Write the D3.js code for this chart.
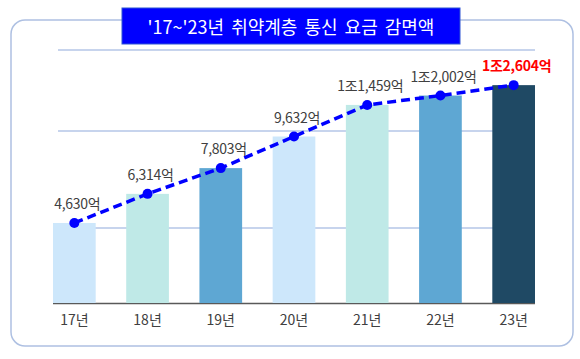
<!DOCTYPE html>
<html><head><meta charset="utf-8">
<script src="https://cdn.jsdelivr.net/npm/d3@7"></script>
<style>html,body{margin:0;padding:0;background:#fff;}svg{display:block;}</style>
</head><body>
<script>
// ---- data ----
const years = ["17년","18년","19년","20년","21년","22년","23년"];
const values = [4630, 6314, 7803, 9632, 11459, 12002, 12604]; // 억원
const gridValues = [4340, 9950, 14640];
const title = "'17~'23년 취약계층 통신 요금 감면액";

// ---- styles ----
const barColors = ["#CDE7FB","#BFE9E7","#5EA7D3","#CDE7FB","#BFE9E7","#5EA7D3","#1F4964"];
const W = 580, H = 359;
const font = "'Noto Sans CJK KR','Noto Sans',sans-serif";

const svg = d3.select("body").append("svg").attr("width", W).attr("height", H);

// outer frame
svg.append("rect").attr("x", 11).attr("y", 20).attr("width", 562).attr("height", 326)
  .attr("rx", 14).attr("fill", "#fff").attr("stroke", "#AEC0E2").attr("stroke-width", 1.5);

const x = d3.scaleBand().domain(years).range([53, 535]).paddingInner(0.417).paddingOuter(0);
const y = d3.scaleLinear().domain([0, 14000]).range([303, 61]);

// gridlines
svg.append("g").selectAll("line").data(gridValues).join("line")
  .attr("x1", 58).attr("x2", 535)
  .attr("y1", d => y(d)).attr("y2", d => y(d))
  .attr("stroke", "#B4C6E7").attr("stroke-width", 1.5);

// baseline
svg.append("line").attr("x1", 53).attr("x2", 535).attr("y1", y(0) + 0.5).attr("y2", y(0) + 0.5)
  .attr("stroke", "#595959").attr("stroke-width", 1.5);

// bars
svg.append("g").selectAll("rect").data(values).join("rect")
  .attr("x", (d, i) => x(years[i]))
  .attr("width", x.bandwidth())
  .attr("y", d => y(d))
  .attr("height", d => y(0) - y(d))
  .attr("fill", (d, i) => barColors[i]);

// x axis labels
svg.append("g").selectAll("text").data(years).join("text")
  .attr("x", d => x(d) + x.bandwidth() / 2)
  .attr("y", 325)
  .attr("text-anchor", "middle")
  .attr("font-family", font).attr("font-size", 14).attr("fill", "#404040")
  .text(d => d);

// line
const cx = (d, i) => x(years[i]) + x.bandwidth() / 2;
const line = d3.line().x((d, i) => cx(d, i)).y(d => y(d));
svg.append("path").datum(values).attr("d", line)
  .attr("fill", "none").attr("stroke", "#0000FF").attr("stroke-width", 3.5)
  .attr("stroke-dasharray", "9,5");

svg.append("g").selectAll("circle").data(values).join("circle")
  .attr("cx", cx).attr("cy", d => y(d)).attr("r", 5).attr("fill", "#0000FF");

// value labels
const fmt = d3.format(",");
const label = v => v >= 10000 ? "1조" + fmt(v - 10000).padStart(5, "0").replace(/^0,/, "0,") : fmt(v) + "";
function lbl(v) {
  if (v >= 10000) {
    const r = v % 10000;
    const s = String(r).padStart(4, "0");
    return Math.floor(v / 10000) + "조" + s[0] + "," + s.slice(1) + "억";
  }
  return fmt(v) + "억";
}
svg.append("g").selectAll("text").data(values).join("text")
  .attr("x", (d, i) => cx(d, i) + 3)
  .attr("y", d => y(d) - 14)
  .attr("text-anchor", "middle")
  .attr("font-family", font).attr("font-size", 14)
  .attr("font-weight", (d, i) => i === values.length - 1 ? "bold" : "normal")
  .attr("fill", (d, i) => i === values.length - 1 ? "#FF0000" : "#404040")
  .attr("letter-spacing", -0.3)
  .text(d => lbl(d));

// title box
svg.append("rect").attr("x", 122).attr("y", 8).attr("width", 338).attr("height", 36)
  .attr("fill", "#0000FF").attr("stroke", "#2F55D4").attr("stroke-width", 1);
svg.append("text").attr("x", 291).attr("y", 34).attr("text-anchor", "middle")
  .attr("font-family", font).attr("font-size", 18).attr("fill", "#fff")
  .attr("word-spacing", 3)
  .text(title);
</script>
</body></html>
